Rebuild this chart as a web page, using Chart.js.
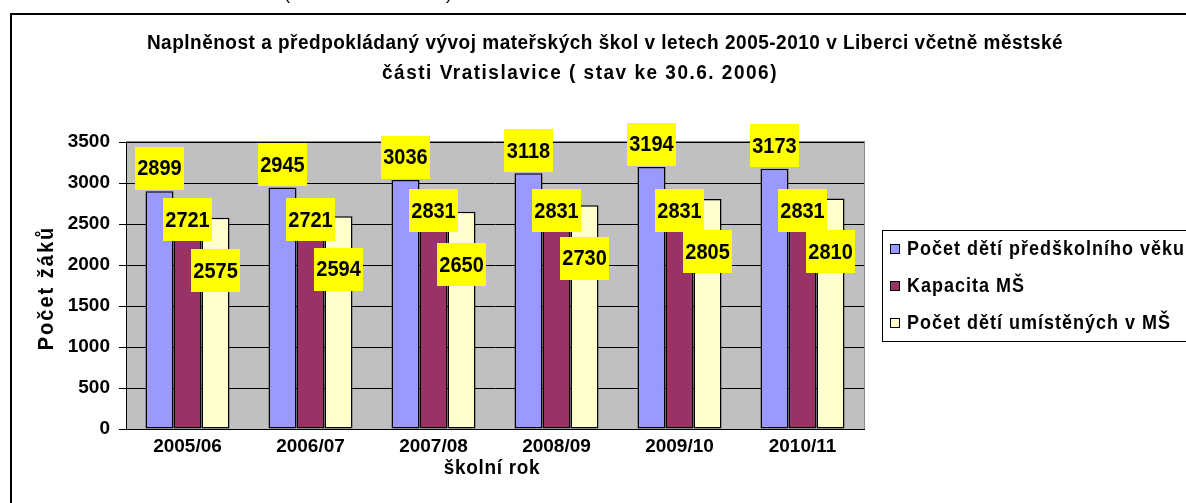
<!DOCTYPE html>
<html><head><meta charset="utf-8">
<script src="https://cdn.jsdelivr.net/npm/chart.js@4/dist/chart.umd.min.js"></script>
<style>html,body{margin:0;padding:0;background:#fff;overflow:hidden}canvas{display:block}</style>
</head><body>
<canvas id="c" width="1186" height="503"></canvas>
<script>
const categories = ['2005/06','2006/07','2007/08','2008/09','2009/10','2010/11'];
const preschoolChildren = [2899,2945,3036,3118,3194,3173];
const capacity = [2721,2721,2831,2831,2831,2831];
const enrolledChildren = [2575,2594,2650,2730,2805,2810];
const seriesNames = ['Počet dětí předškolního věku','Kapacita MŠ','Počet dětí umístěných v MŠ'];
const yTickValues = [0,500,1000,1500,2000,2500,3000,3500];
const titleLines = ['Naplněnost a předpokládaný vývoj mateřských škol v letech 2005-2010 v Liberci včetně městské','části Vratislavice ( stav ke 30.6. 2006)'];
const xTitle = 'školní rok';
const yTitle = 'Počet žáků';

const colors = ['#9999FF','#993366','#FFFFCC'];
const labelShift = [-23, 14, 53];
const FONT = '"Liberation Sans", Arial, sans-serif';

function stretchedText(ctx, text, x, y, sy) {
  ctx.save();
  ctx.translate(x, y);
  ctx.scale(1, sy);
  ctx.fillText(text, 0, 0);
  ctx.restore();
}

const decor = {
  id: 'decor',
  beforeDraw(chart) {
    const {ctx, chartArea: a} = chart;
    ctx.save();
    ctx.fillStyle = '#fff';
    ctx.fillRect(0, 0, chart.width, chart.height);
    ctx.fillStyle = '#C0C0C0';
    ctx.fillRect(a.left, a.top, a.right - a.left, a.bottom - a.top + 1);
    ctx.strokeStyle = '#8a8a8a';
    ctx.lineWidth = 1;
    ctx.strokeRect(a.left + 0.5, a.top - 0.5, a.right - a.left, a.bottom - a.top + 1);
    ctx.restore();
  },
  afterDatasetsDraw(chart) {
    const {ctx} = chart;
    ctx.save();
    ctx.font = 'bold 20px ' + FONT;
    ctx.textAlign = 'center';
    ctx.textBaseline = 'middle';
    chart.data.datasets.forEach((ds, di) => {
      const meta = chart.getDatasetMeta(di);
      meta.data.forEach((bar, i) => {
        const cx = bar.x, cy = bar.y + labelShift[di];
        ctx.fillStyle = '#FFFF00';
        ctx.fillRect(Math.round(cx - 24.5), Math.round(cy - 21.5), 49, 43);
        ctx.fillStyle = '#000';
        stretchedText(ctx, String(ds.data[i]), cx, cy + 1, 1.12);
      });
    });
    ctx.restore();
  },
  afterDraw(chart) {
    const {ctx} = chart;
    ctx.save();
    // frame
    ctx.fillStyle = '#000';
    ctx.fillRect(10, 13, chart.width - 10, 2);
    ctx.fillRect(10, 13, 2, chart.height - 13);
    // clipped text above frame
    ctx.font = '18px ' + FONT;
    ctx.textBaseline = 'alphabetic';
    ctx.textAlign = 'left';
    ctx.fillText('(', 284, -1);
    ctx.fillText(')', 446, -1);
    // title
    ctx.font = 'bold 19px ' + FONT;
    ctx.textAlign = 'center';
    ctx.textBaseline = 'middle';
    ctx.letterSpacing = '0.5px';
    stretchedText(ctx, titleLines[0], 605, 43, 1.1);
    ctx.letterSpacing = '1.5px';
    stretchedText(ctx, titleLines[1], 580, 73, 1.1);
    // axis titles
    ctx.font = 'bold 19px ' + FONT;
    ctx.letterSpacing = '0.7px';
    stretchedText(ctx, xTitle, 492, 468, 1.1);
    ctx.save();
    ctx.translate(47, 288);
    ctx.rotate(-Math.PI / 2);
    ctx.font = 'bold 20px ' + FONT;
    ctx.letterSpacing = '2px';
    ctx.scale(1, 1.1);
    ctx.fillText(yTitle, 0, 0);
    ctx.restore();
    // legend
    ctx.letterSpacing = '1px';
    ctx.strokeStyle = '#000';
    ctx.lineWidth = 1;
    ctx.strokeRect(882.5, 230.5, 330, 111);
    ctx.font = 'bold 18px ' + FONT;
    ctx.textAlign = 'left';
    const rows = [249, 286, 323];
    seriesNames.forEach((name, i) => {
      const y = rows[i];
      ctx.fillStyle = colors[i];
      ctx.fillRect(890.5, y - 4.5, 9, 9);
      ctx.strokeRect(890.5, y - 4.5, 9, 9);
      ctx.fillStyle = '#000';
      stretchedText(ctx, name, 907, y + 1, 1.1);
    });
    ctx.restore();
  }
};

const seriesValues = [preschoolChildren, capacity, enrolledChildren];
new Chart(document.getElementById('c'), {
  type: 'bar',
  data: {
    labels: categories,
    datasets: seriesValues.map((vals, i) => ({
      label: seriesNames[i],
      data: vals,
      backgroundColor: colors[i],
      borderColor: '#000',
      borderWidth: 1.5,
      borderSkipped: false,
      categoryPercentage: 0.683,
      barPercentage: 1.0
    }))
  },
  options: {
    responsive: false,
    animation: false,
    devicePixelRatio: 1,
    layout: {padding: {left: 12, top: 142, right: 322, bottom: 0}},
    plugins: {legend: {display: false}, title: {display: false}, tooltip: {enabled: false}},
    scales: {
      x: {
        grid: {display: false, drawTicks: false},
        border: {display: true, color: '#000', width: 1},
        ticks: {color: '#000', font: {family: FONT, size: 19, weight: 'bold'}, padding: 6, maxRotation: 0},
        afterFit(scale) { scale.height = 74; }
      },
      y: {
        min: 0, max: 3500,
        afterBuildTicks(scale) { scale.ticks = yTickValues.map(v => ({value: v})); },
        grid: {color: '#000', lineWidth: 1, tickLength: 7, drawTicks: true},
        border: {display: true, color: '#000', width: 1},
        ticks: {color: '#000', font: {family: FONT, size: 19, weight: 'bold'}, padding: 9,
          callback: (v) => String(v)},
        afterFit(scale) { scale.width = 114; }
      }
    }
  },
  plugins: [decor]
});
</script>
</body></html>
